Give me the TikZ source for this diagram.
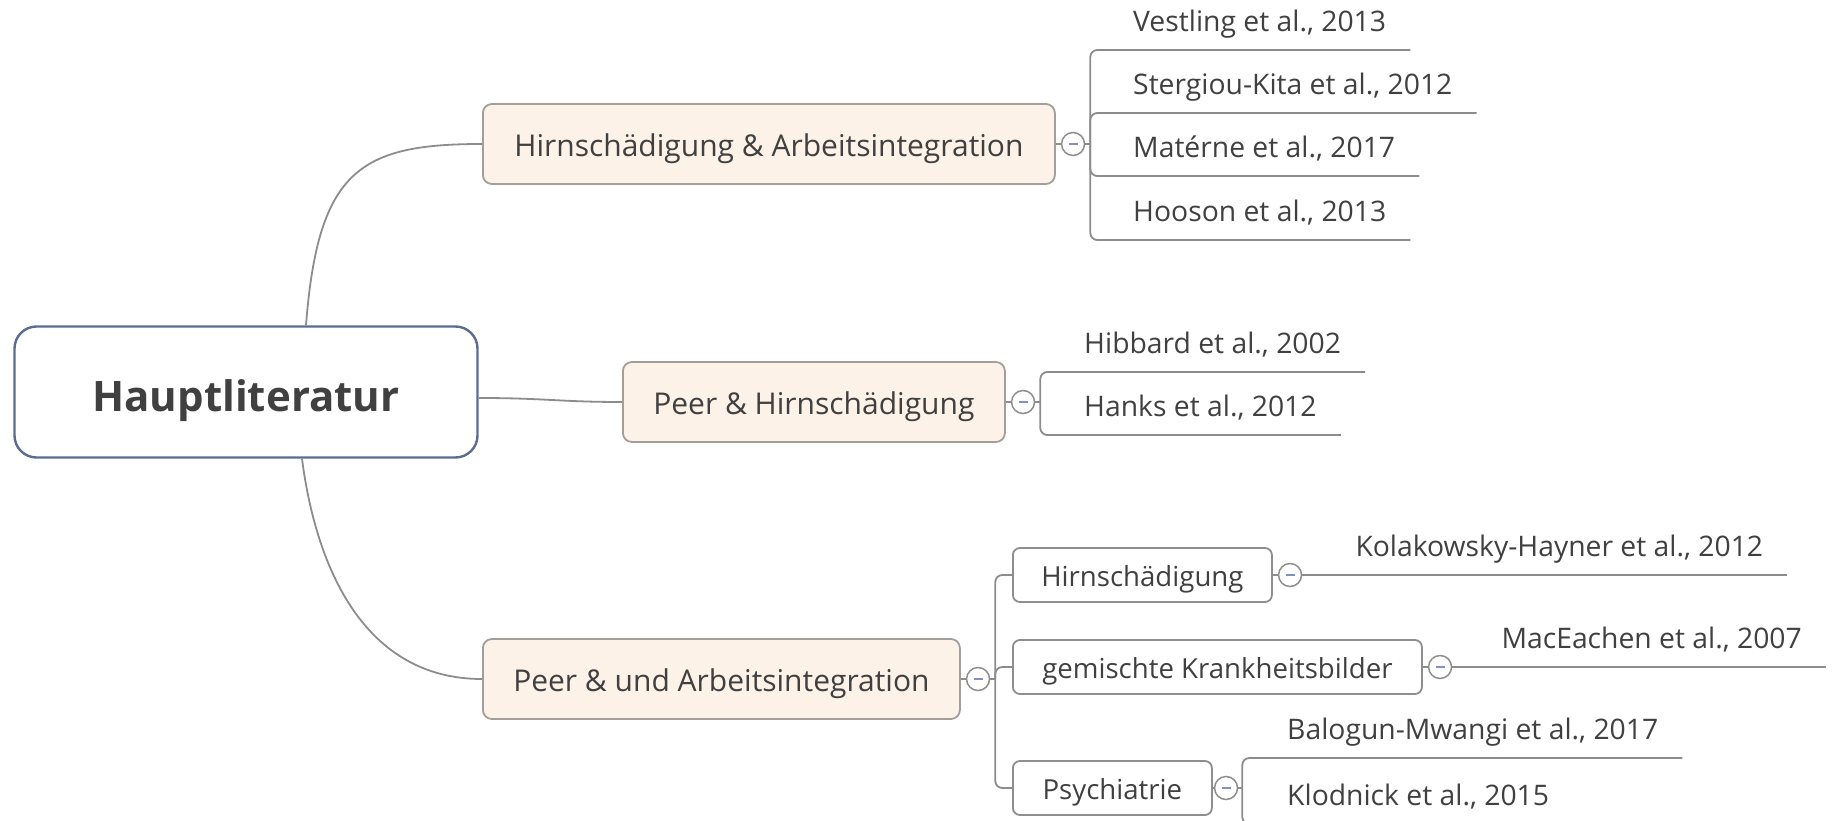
\documentclass[tikz,border=0pt]{standalone}
\usepackage{fontspec}
\setmainfont{Open Sans}
\usetikzlibrary{positioning}
\definecolor{ink}{HTML}{404040}
\definecolor{linkgray}{HTML}{8C8C8C}
\definecolor{rootblue}{HTML}{5A6D8F}
\definecolor{topicfill}{HTML}{FDF2E8}
\definecolor{topicgray}{HTML}{A39E99}
\definecolor{subgray}{HTML}{8E8E8E}
\definecolor{minusblue}{HTML}{8090C0}

\tikzset{
  link/.style={draw=linkgray, line width=1.8pt},
  rootbox/.style={draw=rootblue, fill=white, line width=2.4pt, rounded corners=22pt,
    minimum width=463pt, minimum height=131pt, text=ink,
    text height=38pt, text depth=0pt, font=\fontsize{42}{48}\selectfont\bfseries},
  topic/.style={draw=topicgray, fill=topicfill, line width=1.8pt, rounded corners=9pt,
    anchor=west, minimum height=80pt, text=ink, text height=24.5pt, text depth=0pt,
    font=\fontsize{30}{36}\selectfont},
  subtopic/.style={draw=subgray, fill=white, line width=1.8pt, rounded corners=7pt,
    anchor=west, minimum height=54pt, text=ink, text height=22pt, text depth=0pt,
    font=\fontsize{27.6}{30}\selectfont},
  toggle/.style={circle, draw=subgray, fill=white, line width=1.5pt,
    minimum size=23pt, inner sep=0pt},
  ref/.style={anchor=south west, inner xsep=24pt, inner ysep=12pt,
    text height=20pt, text depth=6pt, text=ink, font=\fontsize{28.3}{32}\selectfont},
}
\newcommand{\minus}{{\color{minusblue}\rule{9pt}{1.3pt}}}

\begin{document}
\begin{tikzpicture}[x=1pt, y=-1pt]
 \useasboundingbox (0,0) rectangle (1834,821);

 \node[rootbox] (root) at (246,392) {Hauptliteratur};

 \node[topic, minimum width=572pt] (b1) at (482,144) {Hirnschädigung \& Arbeitsintegration};
 \node[topic, minimum width=382pt] (b2) at (622,402) {Peer \& Hirnschädigung};
 \node[topic, minimum width=477pt] (b3) at (482,679) {Peer \& und Arbeitsintegration};

 \node[toggle, right=5pt of b1] (m1) {\minus};
 \node[toggle, right=5pt of b2] (m2) {\minus};
 \node[toggle, right=5pt of b3] (m3) {\minus};
 \coordinate[right=5pt of m1] (j1);
 \coordinate[right=5pt of m2] (j2);
 \coordinate[right=5pt of m3] (j3);

 \draw[link] ([xshift=60pt]root.north) .. controls (318,170) and (360,144) .. (b1.west);
 \draw[link] ([yshift=-6pt]root.east) .. controls (545,398) and (560,402) .. (b2.west);
 \draw[link] ([xshift=56pt]root.south) .. controls (315,560) and (360,679) .. (b3.west);
 \draw[link] (b1) -- (m1) (m1) -- (j1);
 \draw[link] (b2) -- (m2) (m2) -- (j2);
 \draw[link] (b3) -- (m3) (m3) -- (j3);

 % Hirnschaedigung & Arbeitsintegration
 \node[ref] (ves) at (1109,50) {Vestling et al., 2013};
 \node[ref] (ste) at (1109,113) {Stergiou-Kita et al., 2012};
 \node[ref] (mat) at (1109,176) {Matérne et al., 2017};
 \node[ref] (hoo) at (1109,240) {Hooson et al., 2013};
 \foreach \r in {ves,ste,mat,hoo}
  \draw[link, rounded corners=7pt] (j1) |- (\r.south west) -- (\r.south east);

 % Peer & Hirnschaedigung
 \node[ref] (hib) at (1060,372) {Hibbard et al., 2002};
 \node[ref] (han) at (1060,435) {Hanks et al., 2012};
 \foreach \r in {hib,han}
  \draw[link, rounded corners=7pt] (j2) |- (\r.south west) -- (\r.south east);

 % Peer & und Arbeitsintegration
 \node[subtopic, minimum width=259pt] (hirn) at (1012,575) {Hirnschädigung};
 \node[subtopic, minimum width=409pt] (gem) at (1012,667) {gemischte Krankheitsbilder};
 \node[subtopic, minimum width=199pt] (psy) at (1012,788) {Psychiatrie};
 \foreach \s in {hirn,gem,psy}
  \draw[link, rounded corners=7pt] (j3) |- (\s.west);

 \node[toggle, right=5pt of hirn] (mh) {\minus};
 \node[toggle, right=5pt of gem] (mg) {\minus};
 \node[toggle, right=1pt of psy] (mp) {\minus};
 \coordinate[right=4pt of mp] (jp);

 \node[ref] (kol) at ([xshift=29pt]mh.east) {Kolakowsky-Hayner et al., 2012};
 \node[ref] (mac) at ([xshift=25pt]mg.east) {MacEachen et al., 2007};
 \draw[link] (hirn) -- (mh) (mh) -- (kol.south west) -- (kol.south east);
 \draw[link] (gem) -- (mg) (mg) -- (mac.south west) -- (mac.south east);

 \node[ref] (bal) at (1263,758) {Balogun-Mwangi et al., 2017};
 \node[ref] (klo) at (1263,824) {Klodnick et al., 2015};
 \draw[link] (psy) -- (mp) (mp) -- (jp);
 \foreach \r in {bal,klo}
  \draw[link, rounded corners=7pt] (jp) |- (\r.south west) -- (\r.south east);
\end{tikzpicture}
\end{document}
